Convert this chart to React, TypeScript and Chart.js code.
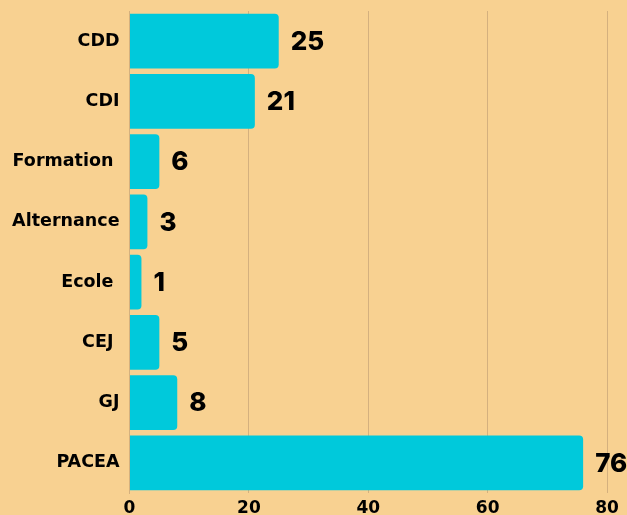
import React, { useEffect, useRef } from "react";
import { Chart, registerables } from "chart.js";

Chart.register(...registerables);

const categories = ["CDD", "CDI", "Formation ", "Alternance", "Ecole ", "CEJ ", "GJ", "PACEA"];
const barValues = [25, 21, 5, 3, 2, 5, 8, 76];
const labelValues = [25, 21, 6, 3, 1, 5, 8, 76];
const xTicks = [0, 20, 40, 60, 80];

const BG = "#F8D191";
const BAR = "#00C9DB";
const GRID = "#D4B07E";
const FONT = "Inter, 'Noto Sans', sans-serif";
const LABEL_FONT = "'DejaVu Sans', Inter, sans-serif";

const valueLabels = {
  id: "valueLabels",
  afterDatasetsDraw(chart: any) {
    const ctx = chart.ctx;
    const meta = chart.getDatasetMeta(0);
    ctx.save();
    ctx.fillStyle = "#000";
    ctx.font = `800 26px ${FONT}`;
    ctx.textBaseline = "middle";
    ctx.textAlign = "left";
    meta.data.forEach((bar: any, i: number) => {
      ctx.fillText(String(labelValues[i]), bar.x + 12, bar.y + 1);
    });
    ctx.restore();
  },
};

export default function App() {
  const ref = useRef<HTMLCanvasElement>(null);
  useEffect(() => {
    const chart = new Chart(ref.current!, {
      type: "bar",
      data: {
        labels: categories,
        datasets: [
          {
            data: barValues,
            backgroundColor: BAR,
            borderRadius: 4,
            borderSkipped: "start",
            barPercentage: 0.91,
            categoryPercentage: 1,
          },
        ],
      },
      options: {
        indexAxis: "y",
        responsive: false,
        animation: false,
        layout: { padding: { top: 11, right: 20, left: 0, bottom: 0 } },
        plugins: { legend: { display: false }, tooltip: { enabled: false } },
        scales: {
          x: {
            min: 0,
            max: 80,
            afterBuildTicks(scale: any) {
              scale.ticks = xTicks.map((v) => ({ value: v }));
            },
            afterFit(scale: any) {
              scale.height = 37;
              scale.paddingLeft = 0;
              scale.paddingRight = 0;
            },
            grid: { color: GRID, drawTicks: false, lineWidth: 1 },
            border: { display: false },
            ticks: {
              color: "#000",
              padding: 5,
              font: { family: LABEL_FONT, size: 17, weight: "bold" as any },
            },
          },
          y: {
            afterFit(scale: any) {
              scale.width = 129.5;
              scale.paddingTop = 0;
              scale.paddingBottom = 0;
            },
            grid: { display: false, drawTicks: false },
            border: { display: true, color: GRID, width: 1 },
            ticks: {
              color: "#000",
              padding: 10,
              font: { family: LABEL_FONT, size: 17.5, weight: "bold" as any },
            },
          },
        },
      },
      plugins: [valueLabels],
    });
    return () => chart.destroy();
  }, []);
  return (
    <div style={{ position: "fixed", left: 0, top: 0, width: 627, height: 515, background: BG, overflow: "hidden" }}>
      <canvas ref={ref} width={627} height={530} style={{ display: "block" }} />
    </div>
  );
}
